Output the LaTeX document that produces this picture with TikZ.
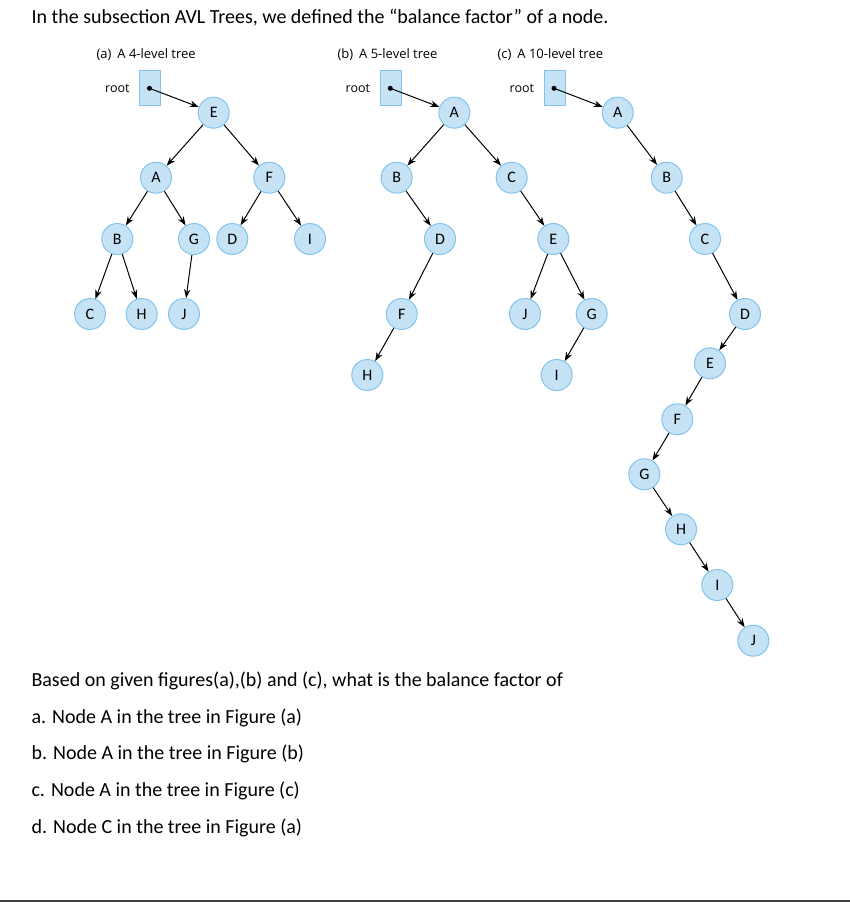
\documentclass[tikz,border=0pt]{standalone}
\usepackage{fontspec}
\setmainfont{Carlito}
\newfontfamily\figfont{Open Sans}
\usetikzlibrary{arrows.meta,positioning}
\definecolor{nodefill}{HTML}{C6E2F5}
\definecolor{nodeline}{HTML}{82C4EE}
\definecolor{rulegray}{HTML}{404040}

\begin{document}
\begin{tikzpicture}[x=1pt,y=-1pt,
  tnode/.style={circle,draw=nodeline,fill=nodefill,line width=1pt,
    minimum size=31pt,inner sep=0pt,font=\fontsize{16}{18}\selectfont},
  rootbox/.style={draw=nodeline,fill=nodefill,line width=0.8pt,
    minimum width=21pt,minimum height=35pt,inner sep=0pt},
  link/.style={-{Stealth[length=9pt,width=6.5pt]},line width=1pt},
  caption/.style={font=\figfont\fontsize{13}{15}\selectfont,anchor=west},
  rootlabel/.style={font=\figfont\fontsize{12.5}{15}\selectfont},
  body/.style={font=\fontsize{20}{24}\selectfont,anchor=west}]
  \useasboundingbox (0,0) rectangle (850,902);
  \node[body] (intro) at (28,18)
    {In the subsection AVL Trees, we defined the “balance factor” of a node.};

  % (a) 4 niveles
  \node[caption] (capa) at (93,55) {(a)\hspace{6pt}A 4-level tree};
  \node[rootbox] (boxa) at (150,88) {};
  \node[left=6pt of boxa,rootlabel] (roota) {root};
  \coordinate (dota) at (149.5,88.3);
  \node[tnode] (aE) at (213.7,112.7) {E};
  \node[tnode] (aA) at (156,177.7) {A};
  \node[tnode] (aF) at (269.3,177.7) {F};
  \node[tnode] (aB) at (117.3,239) {B};
  \node[tnode] (aG) at (194,239) {G};
  \node[tnode] (aD) at (232.3,239) {D};
  \node[tnode] (aI) at (310,239) {I};
  \node[tnode] (aC) at (90,314) {C};
  \node[tnode] (aH) at (141.7,314) {H};
  \node[tnode] (aJ) at (184,314) {J};
  \fill (dota) circle (2.5);
  \draw[link] (dota) -- (aE);
  \foreach \p/\c in {E/A,E/F,A/B,A/G,F/D,F/I,B/C,B/H,G/J}
    \draw[link] (a\p) -- (a\c);

  % (b) 5 niveles
  \node[caption] (capb) at (334,55) {(b)\hspace{6pt}A 5-level tree};
  \node[rootbox] (boxb) at (390.5,88) {};
  \node[left=6pt of boxb,rootlabel] (rootb) {root};
  \coordinate (dotb) at (390.3,88.3);
  \node[tnode] (bA) at (454.3,112.7) {A};
  \node[tnode] (bB) at (396.7,177.7) {B};
  \node[tnode] (bC) at (511.7,177.7) {C};
  \node[tnode] (bD) at (440,239) {D};
  \node[tnode] (bE) at (553.3,239) {E};
  \node[tnode] (bF) at (401.7,314) {F};
  \node[tnode] (bJ) at (525,314) {J};
  \node[tnode] (bG) at (591.7,314) {G};
  \node[tnode] (bH) at (367.3,375) {H};
  \node[tnode] (bI) at (556.7,375) {I};
  \fill (dotb) circle (2.5);
  \draw[link] (dotb) -- (bA);
  \foreach \p/\c in {A/B,A/C,B/D,D/F,F/H,C/E,E/J,E/G,G/I}
    \draw[link] (b\p) -- (b\c);

  % (c) 10 niveles
  \node[caption] (capc) at (494,55) {(c)\hspace{6pt}A 10-level tree};
  \node[rootbox] (boxc) at (554.5,88) {};
  \node[left=6pt of boxc,rootlabel] (rootc) {root};
  \coordinate (dotc) at (554,88.3);
  \node[tnode] (cA) at (617.7,112.7) {A};
  \node[tnode] (cB) at (666.7,177.7) {B};
  \node[tnode] (cC) at (705,239) {C};
  \node[tnode] (cD) at (745,314) {D};
  \node[tnode] (cE) at (710,363.3) {E};
  \node[tnode] (cF) at (677.3,419.3) {F};
  \node[tnode] (cG) at (644.3,474.3) {G};
  \node[tnode] (cH) at (681,529.3) {H};
  \node[tnode] (cI) at (717.3,585) {I};
  \node[tnode] (cJ) at (753.3,640.7) {J};
  \fill (dotc) circle (2.5);
  \draw[link] (dotc) -- (cA);
  \foreach \p/\c in {A/B,B/C,C/D,D/E,E/F,F/G,G/H,H/I,I/J}
    \draw[link] (c\p) -- (c\c);

  % preguntas
  \node[body] (qhead) at (28,681)
    {Based on given figures(a),(b) and (c), what is the balance factor of};
  \node[body] (qa) at (28,718) {a. Node A in the tree in Figure (a)};
  \node[body] (qb) at (28,754) {b. Node A in the tree in Figure (b)};
  \node[body] (qc) at (28,791) {c. Node A in the tree in Figure (c)};
  \node[body] (qd) at (28,828) {d. Node C in the tree in Figure (a)};
  \fill[rulegray] (0,899.5) rectangle (850,902);
\end{tikzpicture}
\end{document}
